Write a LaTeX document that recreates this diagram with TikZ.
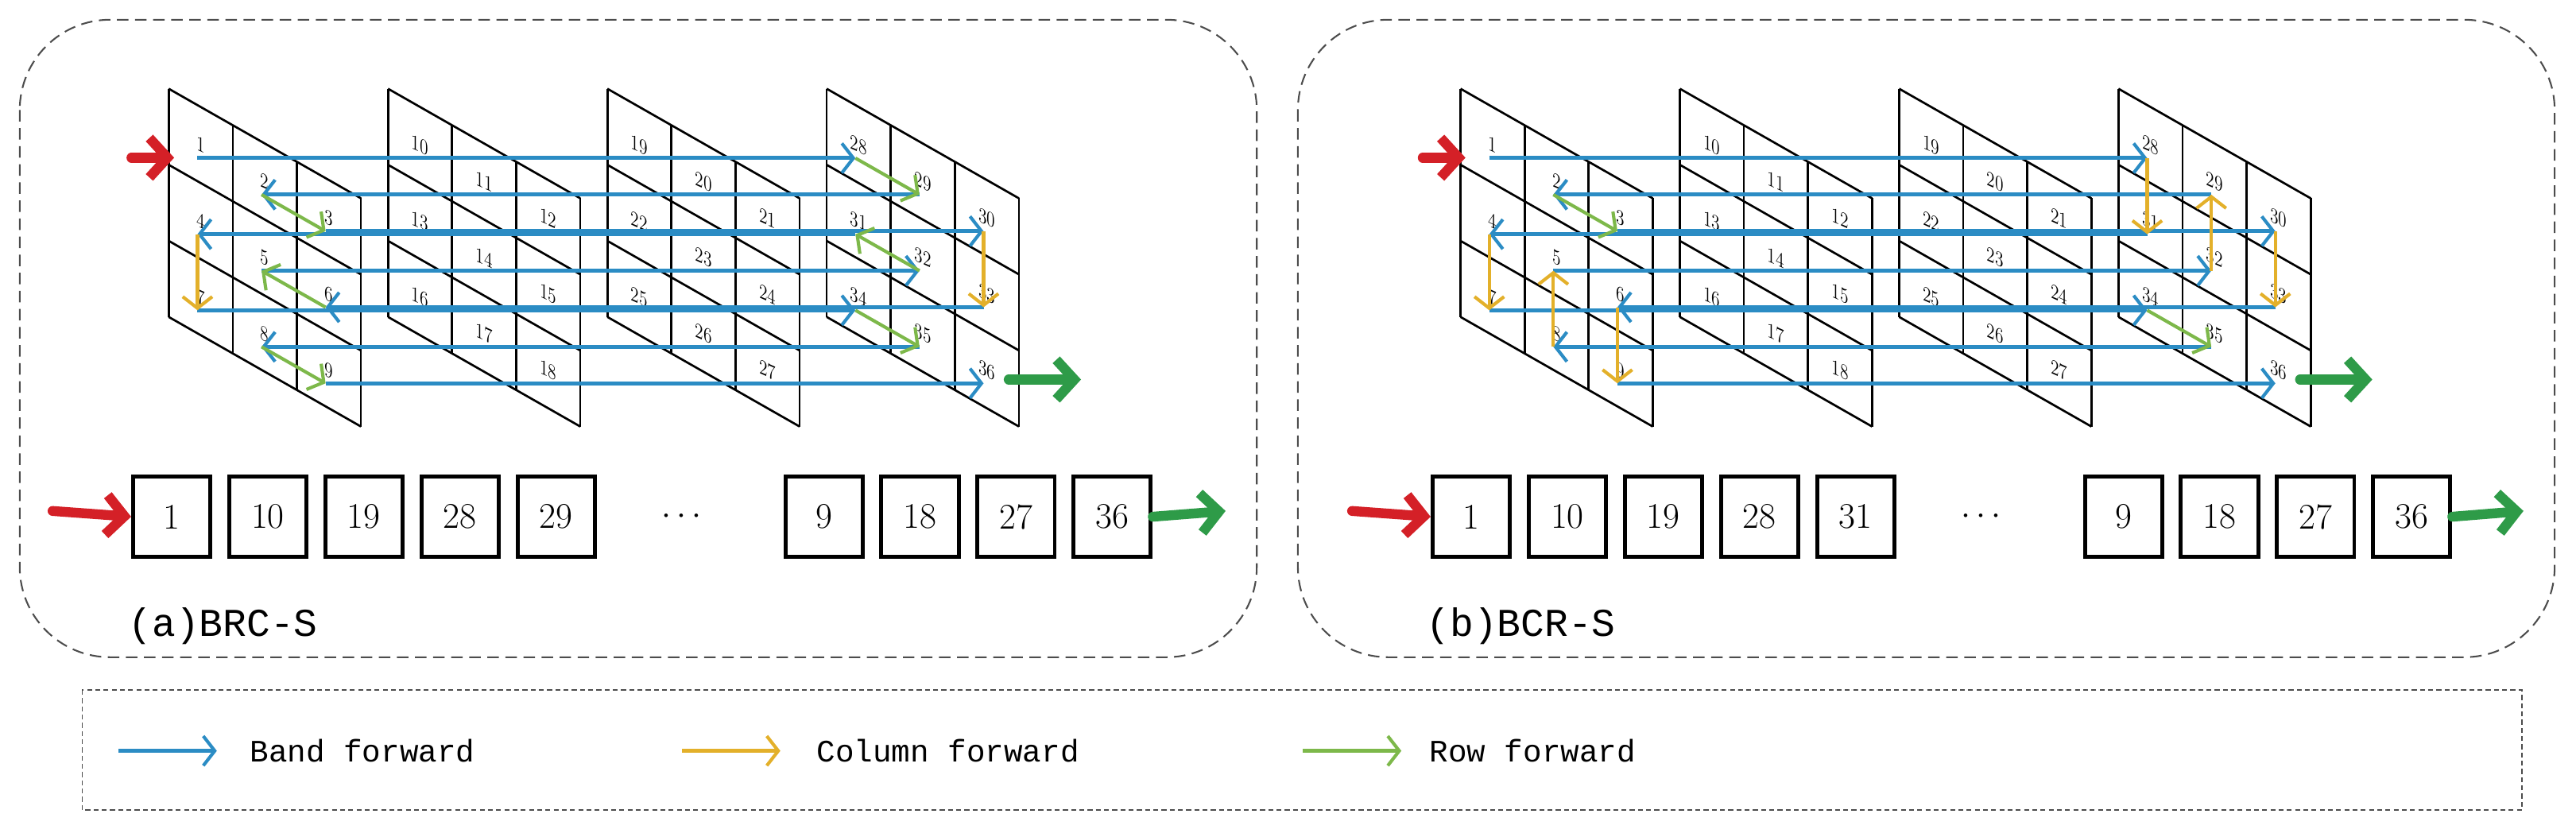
\documentclass[tikz,border=0pt]{standalone}
\usepackage{fontspec}
\usetikzlibrary{arrows.meta}
\newfontfamily\monof{Liberation Mono}
\definecolor{cblue}{HTML}{2B8CC4}
\definecolor{cyel}{HTML}{E3B02A}
\definecolor{cgrn}{HTML}{7DB84A}
\definecolor{cred}{HTML}{D42027}
\definecolor{cdgrn}{HTML}{2E9B48}
\tikzset{
  gridl/.style={line width=1.3pt,black},
  lab/.style={font=\fontsize{13}{13}\selectfont,inner sep=0pt,transform shape,yslant=-0.45,xscale=0.8},
  tip/.style={-{Straight Barb[length=7pt,width=18pt,line width=2pt]}},
  band/.style={tip,cblue,line width=2.4pt},
  colf/.style={tip,cyel,line width=2pt},
  rowf/.style={tip,cgrn,line width=2pt},
  bigin/.style={-{Straight Barb[length=11pt,width=24pt,line width=6pt]},cred,line width=6pt,line cap=round},
  bigout/.style={-{Straight Barb[length=11pt,width=24pt,line width=6pt]},cdgrn,line width=6pt,line cap=round},
  seq/.style={draw,line width=2.4pt,minimum width=47pt,minimum height=49pt,inner sep=0pt,font=\fontsize{22}{22}\selectfont},
  panel/.style={draw=black!70,dashed,line width=1pt,rounded corners=55pt,dash pattern=on 7pt off 4pt},
  ttl/.style={font=\monof\fontsize{24}{24}\selectfont,anchor=west,inner sep=0pt},
  leg/.style={font=\monof\fontsize{19}{19}\selectfont,anchor=west,inner sep=0pt},
}
\newcommand\mygrid[2]{%
  \foreach \s in {0,...,3}{%
    \pgfmathsetmacro\xs{#1+133.5*\s}%
    \foreach \c in {0,...,3} \draw[gridl] (\xs+39*\c,54+22.23*\c) -- ++(0,138.9);
    \foreach \r in {0,...,3} \draw[gridl] (\xs,54+46.3*\r) -- ++(117,66.7);
  }%
  \foreach \n in {1,...,36}{%
    \pgfmathtruncatemacro\s{(\n-1)/9}%
    \pgfmathtruncatemacro\k{\n-1-9*\s}%
    \pgfmathtruncatemacro\r{\k/3}%
    \pgfmathtruncatemacro\c{\k-3*\r}%
    \pgfmathsetmacro\cx{#1+133.5*\s+39*\c+19.5}%
    \pgfmathsetmacro\cy{54+46.3*\r+22.23*\c+34.25}%
    \node[lab] (#2l\n) at (\cx,\cy) {\n};
    \coordinate (#2a\n) at (\cx-2,\cy+8);
  }%
}
\begin{document}
\begin{tikzpicture}[x=1pt,y=-1pt]
\useasboundingbox (0,0) rectangle (1568,509);
% panels
\draw[panel] (12,12) rectangle (765,400);
\draw[panel] (790,12) rectangle (1555,400);
\draw[draw=black!70,line width=0.8pt,dash pattern=on 3pt off 2pt] (50,420) rectangle (1535,493);
% grids
\mygrid{102.7}{L}
\mygrid{889}{R}
% left arrows
\foreach \a/\b in {1/28,29/2,3/30,33/6,5/32,31/4,7/34,35/8,9/36} \draw[band] (La\a) -- (La\b);
\foreach \a/\b in {28/29,2/3,6/5,32/31,34/35,8/9} \draw[rowf] (La\a) -- (La\b);
\foreach \a/\b in {30/33,4/7} \draw[colf] (La\a) -- (La\b);
% right arrows
\foreach \a/\b in {1/28,31/4,7/34,35/8,5/32,29/2,3/30,33/6,9/36} \draw[band] (Ra\a) -- (Ra\b);
\foreach \a/\b in {34/35,2/3} \draw[rowf] (Ra\a) -- (Ra\b);
\foreach \a/\b in {28/31,4/7,8/5,32/29,30/33,6/9} \draw[colf] (Ra\a) -- (Ra\b);
% in/out arrows at grids
\coordinate (Lin0) at (80,96); \coordinate (Lin1) at (106,96);
\coordinate (Lout0) at (614,231); \coordinate (Lout1) at (658,231);
\coordinate (Rin0) at (866,96); \coordinate (Rin1) at (892,96);
\coordinate (Rout0) at (1400,231); \coordinate (Rout1) at (1444,231);
\draw[bigin] (Lin0) -- (Lin1);
\draw[bigout] (Lout0) -- (Lout1);
\draw[bigin] (Rin0) -- (Rin1);
\draw[bigout] (Rout0) -- (Rout1);
% sequences
\foreach \v/\x [count=\i] in {1/104.5,10/163,19/221.5,28/280,29/338.5,9/501.6,18/560,27/618.5,36/677}
  \node[seq] (Ls\i) at (\x,314.5) {\v};
\node[font=\fontsize{22}{22}\selectfont] (Ldots) at (415,314.5) {$\cdots$};
\foreach \v/\x [count=\i] in {1/104.5,10/163,19/221.5,28/280,31/338.5,9/501.6,18/560,27/618.5,36/677}
  \node[seq] (Rs\i) at (\x+791,314.5) {\v};
\node[font=\fontsize{22}{22}\selectfont] (Rdots) at (1206,314.5) {$\cdots$};
\coordinate (Lsi) at (32,311); \coordinate (Lso) at (746,311);
\coordinate (Rsi) at (823,311); \coordinate (Rso) at (1536,311);
\draw[bigin] (Lsi) -- (Ls1.west);
\draw[bigout] (Ls9.east) -- (Lso);
\draw[bigin] (Rsi) -- (Rs1.west);
\draw[bigout] (Rs9.east) -- (Rso);
% titles
\node[ttl] (ta) at (78,381) {(a)BRC-S};
\node[ttl] (tb) at (868,381) {(b)BCR-S};
% legend
\coordinate (g1a) at (72,457); \coordinate (g1b) at (132,457);
\coordinate (g2a) at (415,457); \coordinate (g2b) at (475,457);
\coordinate (g3a) at (793,457); \coordinate (g3b) at (853,457);
\draw[tip,cblue,line width=2.4pt] (g1a) -- (g1b);
\draw[tip,cyel,line width=2.4pt] (g2a) -- (g2b);
\draw[tip,cgrn,line width=2.4pt] (g3a) -- (g3b);
\node[leg] (t1) at (152,457) {Band forward};
\node[leg] (t2) at (497,457) {Column forward};
\node[leg] (t3) at (870,457) {Row forward};
\end{tikzpicture}
\end{document}
